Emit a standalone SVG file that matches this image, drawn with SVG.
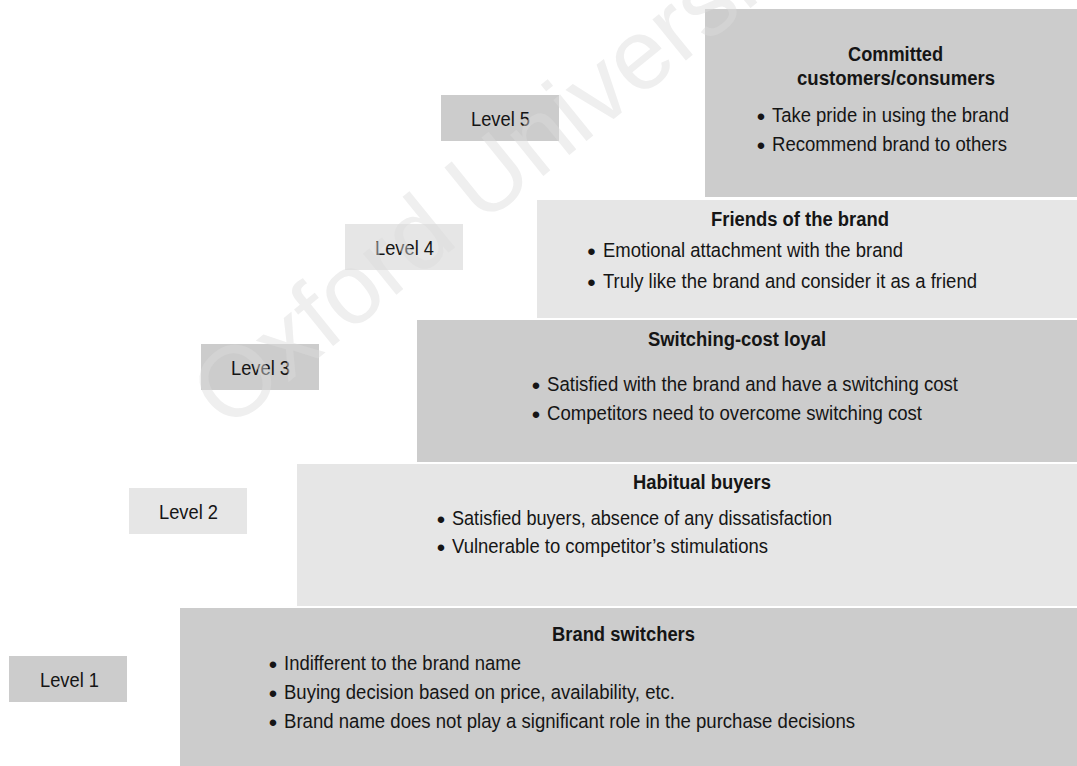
<svg xmlns="http://www.w3.org/2000/svg" width="1077" height="766" viewBox="0 0 1077 766">
  <style>
    .dark { fill: #cccccc; }
    .light { fill: #e6e6e6; }
    .t { font-family: 'Liberation Sans Narrow', 'Liberation Sans', Arial, sans-serif; font-size: 20.5px; fill: #151515; }
    .h { font-weight: bold; font-size: 20px; }
    .dot { font-family: 'Liberation Sans', Arial, sans-serif; font-size: 24px; fill: #151515; text-anchor: middle; }
    .mark { font-family: 'Liberation Sans', Arial, sans-serif; font-size: 100px; fill: #dcdcdc; opacity: 0.45; }
  </style>
  <rect width="1077" height="766" fill="#ffffff"/>

  <!-- Level 5: committed customers -->
  <g id="tier-5">
    <rect class="dark" x="705" y="9" width="372" height="188"/>
    <text class="t h" x="848" y="61" textLength="95" lengthAdjust="spacingAndGlyphs">Committed</text>
    <text class="t h" x="797" y="85" textLength="198" lengthAdjust="spacingAndGlyphs">customers/consumers</text>
    <text class="dot" x="761" y="125">•</text>
    <text class="t" x="772" y="122" textLength="237" lengthAdjust="spacingAndGlyphs">Take pride in using the brand</text>
    <text class="dot" x="761" y="154">•</text>
    <text class="t" x="772" y="151" textLength="235" lengthAdjust="spacingAndGlyphs">Recommend brand to others</text>
  </g>

  <!-- Level 4: friends of the brand -->
  <g id="tier-4">
    <rect class="light" x="537" y="200" width="540" height="118"/>
    <text class="t h" x="711" y="226" textLength="178" lengthAdjust="spacingAndGlyphs">Friends of the brand</text>
    <text class="dot" x="591.5" y="260">•</text>
    <text class="t" x="603" y="257" textLength="300" lengthAdjust="spacingAndGlyphs">Emotional attachment with the brand</text>
    <text class="dot" x="591.5" y="291">•</text>
    <text class="t" x="603" y="288" textLength="374" lengthAdjust="spacingAndGlyphs">Truly like the brand and consider it as a friend</text>
  </g>

  <!-- Level 3: switching-cost loyal -->
  <g id="tier-3">
    <rect class="dark" x="417" y="320" width="660" height="142"/>
    <text class="t h" x="648" y="346" textLength="178" lengthAdjust="spacingAndGlyphs">Switching-cost loyal</text>
    <text class="dot" x="536" y="394">•</text>
    <text class="t" x="547" y="391" textLength="411" lengthAdjust="spacingAndGlyphs">Satisfied with the brand and have a switching cost</text>
    <text class="dot" x="536" y="423">•</text>
    <text class="t" x="547" y="420" textLength="375" lengthAdjust="spacingAndGlyphs">Competitors need to overcome switching cost</text>
  </g>

  <!-- Level 2: habitual buyers -->
  <g id="tier-2">
    <rect class="light" x="297" y="464" width="780" height="142"/>
    <text class="t h" x="633" y="489" textLength="138" lengthAdjust="spacingAndGlyphs">Habitual buyers</text>
    <text class="dot" x="441" y="528">•</text>
    <text class="t" x="452" y="525" textLength="380" lengthAdjust="spacingAndGlyphs">Satisfied buyers, absence of any dissatisfaction</text>
    <text class="dot" x="441" y="556">•</text>
    <text class="t" x="452" y="553" textLength="316" lengthAdjust="spacingAndGlyphs">Vulnerable to competitor’s stimulations</text>
  </g>

  <!-- Level 1: brand switchers -->
  <g id="tier-1">
    <rect class="dark" x="180" y="608" width="897" height="158"/>
    <text class="t h" x="552" y="641" textLength="143" lengthAdjust="spacingAndGlyphs">Brand switchers</text>
    <text class="dot" x="273" y="673">•</text>
    <text class="t" x="284" y="670" textLength="237" lengthAdjust="spacingAndGlyphs">Indifferent to the brand name</text>
    <text class="dot" x="273" y="702">•</text>
    <text class="t" x="284" y="699" textLength="391" lengthAdjust="spacingAndGlyphs">Buying decision based on price, availability, etc.</text>
    <text class="dot" x="273" y="731">•</text>
    <text class="t" x="284" y="728" textLength="571" lengthAdjust="spacingAndGlyphs">Brand name does not play a significant role in the purchase decisions</text>
  </g>

  <!-- Level tags on the left of each step -->
  <g id="label-5">
    <rect class="dark" x="441" y="95" width="118" height="46"/>
    <text class="t" x="471" y="126" textLength="59" lengthAdjust="spacingAndGlyphs">Level 5</text>
  </g>
  <g id="label-4">
    <rect class="light" x="345" y="224" width="118" height="46"/>
    <text class="t" x="375" y="255" textLength="59" lengthAdjust="spacingAndGlyphs">Level 4</text>
  </g>
  <g id="label-3">
    <rect class="dark" x="201" y="344" width="118" height="46"/>
    <text class="t" x="231" y="375" textLength="59" lengthAdjust="spacingAndGlyphs">Level 3</text>
  </g>
  <g id="label-2">
    <rect class="light" x="129" y="488" width="118" height="46"/>
    <text class="t" x="159" y="519" textLength="59" lengthAdjust="spacingAndGlyphs">Level 2</text>
  </g>
  <g id="label-1">
    <rect class="dark" x="9" y="656" width="118" height="46"/>
    <text class="t" x="40" y="687" textLength="59" lengthAdjust="spacingAndGlyphs">Level 1</text>
  </g>

  <!-- faint diagonal imprint -->
  <text class="mark" transform="translate(227 432) rotate(-39)">Oxford University</text>
</svg>
